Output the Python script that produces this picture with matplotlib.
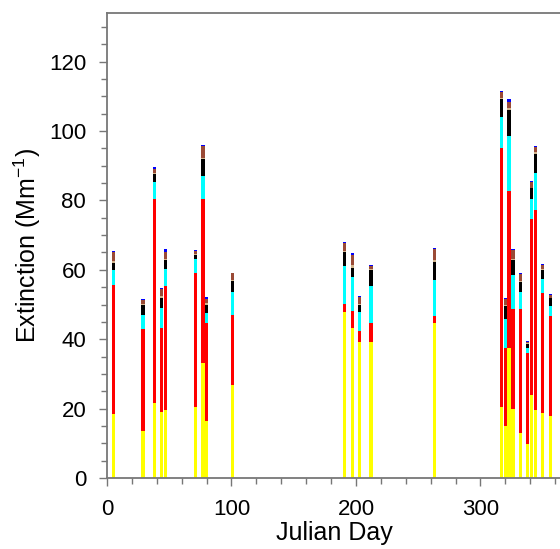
import numpy as np
import matplotlib
matplotlib.use('Agg')
import matplotlib.pyplot as plt
from matplotlib.ticker import MultipleLocator

# Julian day of each sample
days = [5, 29, 38, 44, 47, 71, 77, 80, 101, 191, 197, 203, 212, 263,
        317, 320, 323, 326, 332, 338, 341, 344, 350, 356]

# extinction components (Mm-1), bottom to top
yellow = [18.5, 13.5, 21.6, 18.9, 19.7, 20.5, 33.2, 16.3, 26.9, 47.9, 43.3, 39.1, 39.3, 44.8,
          20.4, 14.9, 37.6, 19.9, 12.9, 9.8, 23.8, 19.7, 18.8, 17.9]
red = [37.2, 29.3, 58.9, 24.3, 35.7, 38.5, 47.3, 28.5, 20.1, 2.3, 4.8, 3.3, 5.5, 1.9,
       74.8, 22.7, 45.0, 28.8, 35.8, 26.2, 50.8, 57.6, 34.5, 28.9]
cyan = [4.1, 4.3, 4.7, 5.7, 4.7, 4.2, 6.6, 2.8, 6.6, 10.8, 9.7, 5.5, 10.6, 10.3,
        8.7, 8.3, 15.9, 9.8, 4.9, 1.4, 5.8, 10.6, 4.1, 2.7]
black = [2.3, 2.8, 2.4, 3.1, 2.8, 1.1, 4.8, 2.4, 3.1, 4.0, 2.8, 2.0, 4.4, 5.3,
         5.3, 3.8, 7.6, 4.3, 2.8, 1.3, 3.1, 5.5, 2.6, 2.3]
tan = [0.3, 0.2, 0.3, 0.5, 0.2, 0.2, 0.3, 0.3, 0.3, 0.4, 0.9, 0.3, 0.4, 0.5,
       0.3, 0.3, 0.4, 0.4, 0.3, 0.1, 0.2, 0.5, 0.3, 0.2]
brown = [2.7, 1.1, 1.2, 2.0, 1.9, 0.8, 3.5, 1.4, 2.0, 2.2, 2.9, 1.9, 1.0, 3.2,
         1.6, 1.5, 1.9, 2.5, 2.1, 0.4, 1.7, 1.6, 1.2, 0.8]
blue = [0.3, 0.3, 0.5, 0.3, 0.9, 0.4, 0.3, 0.5, 0.1, 0.3, 0.4, 0.3, 0.1, 0.3,
        0.5, 0.3, 0.8, 0.3, 0.3, 0.3, 0.1, 0.3, 0.3, 0.1]

series = [yellow, red, cyan, black, tan, brown, blue]
colors = ['#ffff00', '#ff0000', '#00ffff', '#000000', '#d2b48c', '#9a4a36', '#0000ff']

plt.rcParams['font.family'] = ['Liberation Sans', 'DejaVu Sans']

fig = plt.figure(figsize=(5.6, 5.49), dpi=100)
ax = fig.add_axes([0.191, 0.1293, 0.8137, 0.847])

bottom = np.zeros(len(days))
for vals, col in zip(series, colors):
    ax.bar(days, vals, width=2.7, bottom=bottom, color=col, linewidth=0)
    bottom += np.array(vals)

ax.set_xlim(0, 366)
ax.set_ylim(0, 134)
ax.xaxis.set_major_locator(MultipleLocator(100))
ax.xaxis.set_minor_locator(MultipleLocator(20))
ax.yaxis.set_major_locator(MultipleLocator(20))
ax.yaxis.set_minor_locator(MultipleLocator(5))

grey = '#777777'
for s in ax.spines.values():
    s.set_color(grey)
    s.set_linewidth(1.3)
ax.tick_params(which='both', direction='out', color=grey, width=1.0,
               labelsize=16, top=False, right=False)
ax.tick_params(which='major', length=6, pad=9)
ax.tick_params(which='minor', length=4.6)

ax.set_xlabel('Julian Day', fontsize=18, labelpad=1)
ax.set_ylabel('Extinction (Mm$^{\\mathregular{-1}}$)', fontsize=18, labelpad=4)

fig.savefig('out.png', dpi=100)
